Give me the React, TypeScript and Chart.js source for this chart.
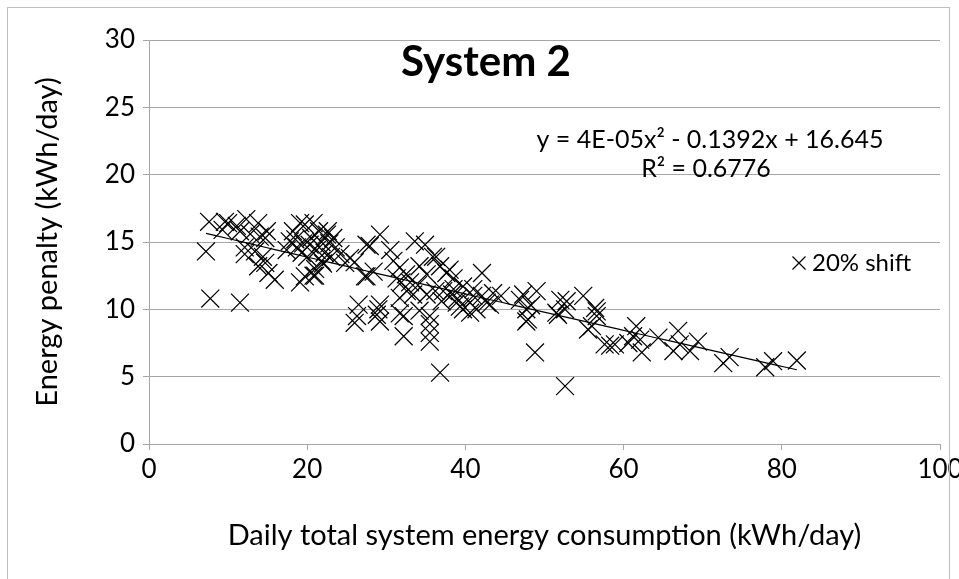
import React, { useEffect, useRef } from "react";
import { Chart, registerables } from "chart.js";

Chart.register(...registerables);

// ---- data ----
const shiftX = [
  7.6, 7.2, 7.75, 11.5, 9.3, 10.0, 11.1, 12.3, 13.8, 12.8, 14.0, 14.9, 12.1, 13.4, 14.4, 13.8, 15.1, 15.9, 11.5, 12.1, 14.7, 14.7, 9.6,
  17.4, 18.2, 19.7, 19.1, 21.0, 17.8, 19.1, 18.7, 20.8, 21.0, 21.8, 20.3, 22.5, 20.8, 19.7,
  18.5, 19.5, 20.5, 21.2, 21.8, 22.2, 22.8, 23.3, 23.6, 20.0, 22.0, 23.0, 21.5, 19.3, 22.6,
  25.4, 24.8, 27.5, 29.2, 28.4, 27.5, 27.9, 27.3, 26.5, 26.3, 29.2, 28.8, 29.2, 26.0, 29.0, 24.2, 26.0,
  30.5, 30.9, 31.7, 31.3, 31.9, 33.6, 34.9, 34.2, 35.9, 35.1, 36.8, 37.6, 38.5, 32.6, 33.4, 35.1, 36.2, 37.2, 38.3,
  31.7, 34.2, 31.7, 32.2, 32.2, 35.5, 35.5, 35.5, 35.5, 36.8, 36.3, 38.0, 38.5, 39.7, 39.3, 40.6, 32.5, 33.0, 34.0, 37.0, 39.0, 38.9, 39.7,
  42.1, 42.1, 43.5, 41.0, 42.7, 41.0, 40.6, 41.4, 43.1, 46.9, 49.0, 47.7, 47.7, 48.8, 47.3, 47.9, 48.3, 44.5,
  52.0, 52.6, 51.5, 52.6, 54.9, 55.5, 56.6, 52.8, 51.7, 56.6, 56.4, 56.0, 57.6, 58.3, 58.9,
  61.6, 61.2, 60.6, 62.3, 62.1, 64.4, 66.9, 66.3, 67.1, 68.4, 69.4, 72.6, 73.4, 77.9, 78.9, 81.9,
];
const shiftY = [
  16.5, 14.3, 10.8, 10.5, 15.9, 16.4, 16.2, 16.7, 16.4, 15.6, 15.4, 15.8, 14.1, 14.3, 13.9, 13.2, 12.7, 12.2, 15.8, 14.6, 15.3, 13.45, 16.5,
  14.4, 15.8, 16.3, 12.0, 12.5, 15.05, 16.4, 14.6, 12.5, 13.0, 13.6, 14.8, 15.55, 16.4, 12.45,
  15.2, 14.9, 15.3, 14.4, 15.0, 14.2, 14.9, 15.3, 14.6, 13.9, 13.4, 13.9, 15.8, 14.2, 15.8,
  13.8, 13.45, 14.8, 15.55, 12.8, 12.45, 14.7, 12.45, 10.35, 9.5, 10.35, 9.6, 9.1, 9.0, 10.0, 14.1, 13.5,
  14.4, 13.6, 13.1, 12.3, 12.0, 15.05, 14.8, 13.2, 13.9, 12.6, 13.2, 12.7, 12.3, 11.35, 11.1, 11.1, 11.35, 11.35, 11.1,
  9.7, 9.9, 10.85, 9.5, 8.0, 9.5, 8.9, 8.25, 7.6, 5.3, 13.9, 12.95, 11.5, 11.7, 10.2, 9.75, 12.6, 12.0, 11.8, 10.6, 10.8, 10.5, 10.0,
  12.7, 11.0, 11.2, 11.0, 10.5, 11.5, 10.5, 10.0, 10.35, 10.7, 11.35, 10.0, 9.1, 6.8, 11.1, 9.25, 10.3, 11.0,
  10.7, 10.0, 9.75, 4.3, 11.0, 8.5, 9.5, 10.6, 9.6, 9.85, 10.1, 8.75, 7.4, 7.3, 7.4,
  8.75, 8.0, 7.5, 6.8, 7.75, 7.9, 8.4, 6.9, 7.4, 6.9, 7.6, 6.0, 6.45, 5.7, 6.15, 6.2,
];
// polynomial trendline shown on the chart: y = c2 x^2 + c1 x + c0
const trendC0 = 16.645;
const trendC1 = -0.1392;
const trendC2 = 0.00004;

const xTickValues = [0, 20, 40, 60, 80, 100];
const yTickValues = [0, 5, 10, 15, 20, 25, 30];

const TITLE = "System 2";
const X_TITLE = "Daily total system energy consumption (kWh/day)";
const Y_TITLE = "Energy penalty (kWh/day)";
const SERIES_NAME = "20% shift";
const EQ_TEXT = "y = 4E-05x\u00B2 - 0.1392x + 16.645";
const R2_TEXT = "R\u00B2 = 0.6776";

const FAMILY = "Lato, 'Noto Sans', sans-serif";
const GRID = "#a6a6a6";
const INK = "#000000";

const annotPlugin = {
  id: "annot",
  afterDraw(chart: any) {
    const ctx = chart.ctx;
    ctx.save();
    ctx.fillStyle = INK;
    ctx.textBaseline = "middle";
    ctx.textAlign = "center";
    ctx.font = `bold 42px ${FAMILY}`;
    ctx.fillText(TITLE, 486, 62);

    ctx.font = `25px ${FAMILY}`;
    ctx.fillText(EQ_TEXT, 710, 140);
    ctx.fillText(R2_TEXT, 706, 169);

    // legend
    const lx = 799;
    const ly = 263;
    const h = 6.5;
    ctx.strokeStyle = INK;
    ctx.lineWidth = 1.2;
    ctx.beginPath();
    ctx.moveTo(lx - h, ly - h);
    ctx.lineTo(lx + h, ly + h);
    ctx.moveTo(lx + h, ly - h);
    ctx.lineTo(lx - h, ly + h);
    ctx.stroke();
    ctx.font = `24px ${FAMILY}`;
    ctx.textAlign = "left";
    ctx.fillText(SERIES_NAME, lx + 13, ly);
    ctx.restore();
  },
};

export default function App() {
  const ref = useRef<HTMLCanvasElement | null>(null);

  useEffect(() => {
    if (!ref.current) return;
    const points = shiftX.map((x, i) => ({ x, y: shiftY[i] }));
    const minX = Math.min(...shiftX);
    const maxX = Math.max(...shiftX);
    const trend: { x: number; y: number }[] = [];
    const steps = 60;
    for (let i = 0; i <= steps; i++) {
      const x = minX + ((maxX - minX) * i) / steps;
      trend.push({ x, y: trendC2 * x * x + trendC1 * x + trendC0 });
    }
    const tickFont = { family: FAMILY, size: 26 };
    const titleFont = { family: FAMILY, size: 29 };
    const chart = new Chart(ref.current, {
      type: "scatter",
      data: {
        datasets: [
          {
            label: SERIES_NAME,
            data: points,
            pointStyle: "crossRot",
            pointRadius: 12.7,
            pointBorderWidth: 1.25,
            borderColor: INK,
            backgroundColor: INK,
            showLine: false,
          },
          {
            label: "trend",
            data: trend,
            showLine: true,
            pointRadius: 0,
            borderColor: INK,
            borderWidth: 1.2,
            fill: false,
          },
        ],
      },
      options: {
        animation: false,
        responsive: false,
        maintainAspectRatio: false,
        devicePixelRatio: 1,
        layout: { padding: { left: 0, right: 19, top: 40, bottom: 0 } },
        plugins: {
          legend: { display: false },
          tooltip: { enabled: false },
          title: { display: false },
        },
        scales: {
          x: {
            type: "linear",
            min: 0,
            max: 100,
            afterBuildTicks: (s: any) => {
              s.ticks = xTickValues.map((v) => ({ value: v }));
            },
            ticks: { font: tickFont, color: INK, padding: 4 },
            grid: { drawOnChartArea: false, drawTicks: true, tickLength: 6, color: GRID },
            border: { display: true, color: GRID, width: 1 },
            title: {
              display: true,
              text: X_TITLE,
              font: titleFont,
              color: INK,
              padding: { top: 0, bottom: 26 },
            },
            afterFit: (s: any) => {
              s.height = 135;
              s.paddingLeft = 0;
              s.paddingRight = 0;
            },
          },
          y: {
            type: "linear",
            min: 0,
            max: 30,
            afterBuildTicks: (s: any) => {
              s.ticks = yTickValues.map((v) => ({ value: v }));
            },
            ticks: { font: tickFont, color: INK, padding: 8 },
            grid: { drawOnChartArea: true, drawTicks: true, tickLength: 6, color: GRID },
            border: { display: true, color: GRID, width: 1 },
            title: {
              display: true,
              text: Y_TITLE,
              font: titleFont,
              color: INK,
              padding: { top: 30, bottom: 0 },
            },
            afterFit: (s: any) => {
              s.width = 149;
              s.paddingTop = 0;
              s.paddingBottom = 0;
            },
          },
        },
      },
      plugins: [annotPlugin],
    } as any);
    return () => chart.destroy();
  }, []);

  return (
    <div style={{ position: "fixed", left: 0, top: 0, width: 959, height: 579, background: "#fff" }}>
      <canvas ref={ref} width={959} height={579} style={{ display: "block" }} />
      <div
        style={{
          position: "absolute",
          left: 7,
          top: 7,
          width: 943,
          height: 600,
          border: "1px solid #bfbfbf",
          boxSizing: "border-box",
          pointerEvents: "none",
        }}
      />
    </div>
  );
}
